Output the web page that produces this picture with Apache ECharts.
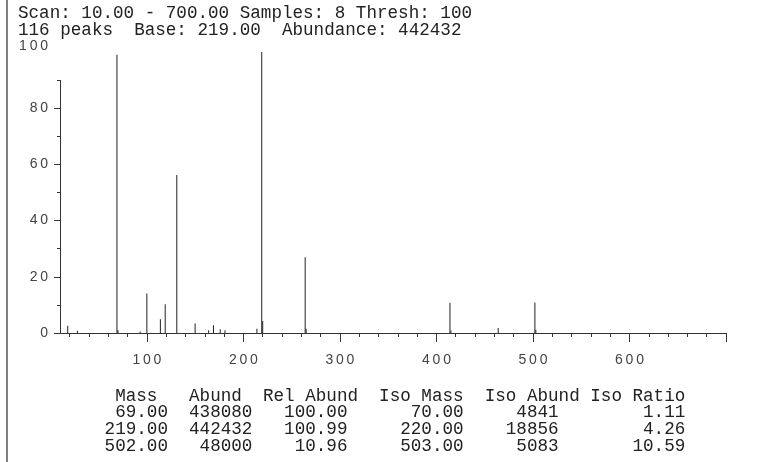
<!DOCTYPE html>
<html>
<head>
<meta charset="utf-8">
<script src="https://cdn.jsdelivr.net/npm/echarts@6/dist/echarts.min.js"></script>
<style>
html,body{margin:0;padding:0;background:#fff;}
#c{width:762px;height:462px;}
</style>
</head>
<body>
<div id="c"></div>
<script>
// ---- data ----
const headerLines = [
  'Scan: 10.00 - 700.00 Samples: 8 Thresh: 100',
  '116 peaks  Base: 219.00  Abundance: 442432'
];
const peakMz  = [18, 28, 69, 70, 93, 100, 114, 119, 131, 150, 164, 169, 176, 181, 214, 219, 220, 264, 265, 414, 415, 464, 502, 503];
const peakRel = [2.6, 0.8, 99.0, 1.1, 0.5, 14.1, 4.9, 10.2, 56.2, 3.4, 1.0, 2.8, 1.3, 1.0, 1.5, 100, 4.3, 27.0, 1.5, 10.8, 0.9, 1.8, 10.85, 1.15];

const xMajorTicks = [100, 200, 300, 400, 500, 600, 700];
const xLabels = [100, 200, 300, 400, 500, 600];
const xMinorTicks = [20, 40, 60, 80, 120, 140, 160, 180, 220, 240, 260, 280, 320, 340, 360, 380, 420, 440, 460, 480, 520, 540, 560, 580, 620, 640, 660, 680];
const yMajorTicks = [0, 20, 40, 60, 80];
const yMinorTicks = [10, 30, 50, 70, 90];
const yLabels = [0, 20, 40, 60, 80, 100];

const tblHead = ['Mass', 'Abund', 'Rel Abund', 'Iso Mass', 'Iso Abund', 'Iso Ratio'];
const tblMass = [69.00, 219.00, 502.00];
const tblAbund = [438080, 442432, 48000];
const tblRel = [100.00, 100.99, 10.96];
const tblIsoMass = [70.00, 220.00, 503.00];
const tblIsoAbund = [4841, 18856, 5083];
const tblIsoRatio = [1.11, 4.26, 10.59];

// ---- build ----
const peaks = peakMz.map((m, i) => [m, peakRel[i]]);
const headRow = ' ' + tblHead[0] + '   ' + tblHead[1] + '  ' + tblHead[2] + '  ' + tblHead[3] + '  ' + tblHead[4] + ' ' + tblHead[5];
const rows = tblMass.map((m, i) =>
  m.toFixed(2).padStart(6) +
  String(tblAbund[i]).padStart(8) +
  tblRel[i].toFixed(2).padStart(9) +
  tblIsoMass[i].toFixed(2).padStart(11) +
  String(tblIsoAbund[i]).padStart(9) +
  tblIsoRatio[i].toFixed(2).padStart(12)
);
const tableText = [headRow].concat(rows).join('\n');

const spaced = v => String(v).split('').join('\u2009');
const axisFont = {fontFamily: 'Liberation Sans', fontSize: 14, color: '#444'};
const mono = 'Liberation Mono';

const chart = echarts.init(document.getElementById('c'), null, {renderer: 'canvas'});
chart.setOption({
  animation: false,
  backgroundColor: '#fff',
  grid: {left: 60, right: 36, top: 52, bottom: 129, containLabel: false},
  xAxis: [
    {
      type: 'value', min: 10, max: 700, position: 'bottom',
      axisLine: {show: true, onZero: false, lineStyle: {color: '#333', width: 1}},
      axisTick: {show: true, customValues: xMajorTicks, length: 9, lineStyle: {color: '#333'}},
      axisLabel: Object.assign({show: true, customValues: xLabels, margin: 20, formatter: spaced}, axisFont),
      splitLine: {show: false}
    },
    {
      type: 'value', min: 10, max: 700, position: 'bottom', offset: 0,
      axisLine: {show: false},
      axisTick: {show: true, customValues: xMinorTicks, length: 4, lineStyle: {color: '#333'}},
      axisLabel: {show: false},
      splitLine: {show: false}
    }
  ],
  yAxis: [
    {
      type: 'value', min: 0, max: 100, position: 'left',
      axisLine: {show: false},
      axisTick: {show: true, customValues: yMajorTicks, length: 6, lineStyle: {color: '#333'}},
      axisLabel: Object.assign({
        show: true, customValues: yLabels, margin: 12,
        formatter: v => v === 100 ? '{top|' + spaced(v) + '}' : spaced(v),
        rich: {top: Object.assign({padding: [0, 0, 11, 0]}, axisFont)}
      }, axisFont),
      splitLine: {show: false}
    },
    {
      type: 'value', min: 0, max: 100, position: 'left', offset: 0,
      axisLine: {show: false},
      axisTick: {show: true, customValues: yMinorTicks, length: 3, lineStyle: {color: '#333'}},
      axisLabel: {show: false},
      splitLine: {show: false}
    }
  ],
  series: [{
    type: 'bar',
    xAxisIndex: 0, yAxisIndex: 0,
    data: peaks,
    barWidth: 1,
    itemStyle: {color: '#222'},
    silent: true,
    markLine: {
      silent: true, symbol: 'none', label: {show: false},
      lineStyle: {color: '#333', width: 1, type: 'solid'},
      data: [[{coord: [10, 0]}, {coord: [10, 90]}]]
    }
  }],
  graphic: [
    {type: 'line', shape: {x1: 7, y1: 0, x2: 7, y2: 462}, style: {stroke: '#555', lineWidth: 1.5}},
    {type: 'text', left: 18, top: 4, style: {text: headerLines.join('\n'), font: '17.6px "' + mono + '"', fill: '#222', lineHeight: 17.5}},
    {type: 'text', left: 104.6, top: 387, style: {text: tableText, font: '17.6px "' + mono + '"', fill: '#222', lineHeight: 16.7}}
  ]
});
</script>
</body>
</html>
